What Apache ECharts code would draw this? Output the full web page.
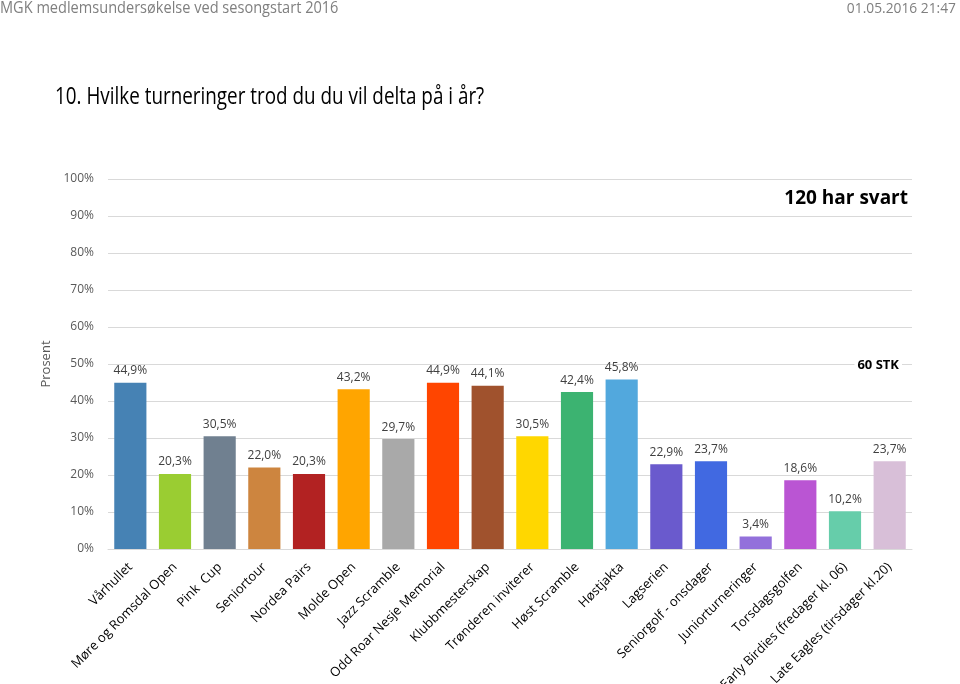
<!DOCTYPE html>
<html>
<head>
<meta charset="utf-8">
<script src="https://cdn.jsdelivr.net/npm/echarts@6/dist/echarts.min.js"></script>
<style>html,body{margin:0;padding:0;background:#fff}#c{width:960px;height:684px}</style>
</head>
<body>
<div id="c"></div>
<script>
const categories = ["Vårhullet","Møre og Romsdal Open","Pink  Cup","Seniortour","Nordea Pairs","Molde Open","Jazz Scramble","Odd Roar Nesje Memorial","Klubbmesterskap","Trønderen inviterer","Høst Scramble","Høstjakta","Lagserien","Seniorgolf - onsdager","Juniorturneringer","Torsdagsgolfen","Early Birdies (fredager kl. 06)","Late Eagles (tirsdager kl.20)"];
const values = [44.9,20.3,30.5,22.0,20.3,43.2,29.7,44.9,44.1,30.5,42.4,45.8,22.9,23.7,3.4,18.6,10.2,23.7];
const colors = ["#4682B4","#9ACD32","#708090","#CD853F","#B22222","#FFA500","#A9A9A9","#FF4500","#A0522D","#FFD700","#3CB371","#52A8DD","#6A5ACD","#4169E1","#9370DB","#BA55D3","#66CDAA","#D8BFD8"];
const yTicks = [0,10,20,30,40,50,60,70,80,90,100];

const font = "'Open Sans', sans-serif";
const chart = echarts.init(document.getElementById('c'));
chart.setOption({
  animation:false,
  backgroundColor:'#fff',
  graphic:[
    {type:'text',x:0,y:0,scaleX:0.91,originX:0,style:{text:'MGK medlemsundersøkelse ved sesongstart 2016',font:"16px 'Open Sans'",fill:'#7f7f7f',textVerticalAlign:'top'}},
    {type:'text',x:956,y:1,scaleX:0.92,originX:0,style:{text:'01.05.2016 21:47',font:"15px 'Open Sans'",fill:'#7f7f7f',textAlign:'right',textVerticalAlign:'top'}},
    {type:'text',x:55,y:86,scaleX:0.82,originX:0,style:{text:'10. Hvilke turneringer trod du du vil delta på i år?',font:"23px 'Open Sans'",fill:'#000',textVerticalAlign:'top'}},
    {type:'text',x:908,y:189,z:100,style:{text:'120 har svart',font:"bold 19px 'Open Sans'",fill:'#000',textAlign:'right',textVerticalAlign:'top'}},
    {type:'text',x:902,y:365,z:100,style:{text:'60 STK',font:"bold 13px 'Open Sans'",fill:'#000',textAlign:'right',textVerticalAlign:'middle',backgroundColor:'#fff',padding:[2,3]}}
  ],
  grid:{left:108,right:48,top:179,bottom:135,containLabel:false,outerBoundsMode:'none'},
  xAxis:{
    type:'category',data:categories,
    axisLine:{lineStyle:{color:'#d9d9d9'}},
    axisTick:{show:false},
    axisLabel:{rotate:45,interval:0,fontFamily:font,fontSize:13,color:'#000',margin:16}
  },
  yAxis:{
    type:'value',min:0,max:100,interval:10,
    name:'Prosent',nameLocation:'middle',nameGap:35,nameRotate:90,
    nameTextStyle:{fontFamily:font,fontSize:13,color:'#595959'},
    axisLabel:{formatter:v=>v+'%',fontFamily:font,fontSize:12,color:'#595959',margin:14},
    splitLine:{lineStyle:{color:'#d9d9d9'}},
    axisLine:{show:false},axisTick:{show:false}
  },
  series:[{
    type:'bar',
    data:values.map((v,i)=>({value:v,itemStyle:{color:colors[i]}})),
    barCategoryGap:'28%',
    label:{show:true,position:'top',distance:6,fontFamily:font,fontSize:12,color:'#404040',
      formatter:p=>p.value.toFixed(1).replace('.',',')+'%'}
  }]
});
</script>
</body>
</html>
